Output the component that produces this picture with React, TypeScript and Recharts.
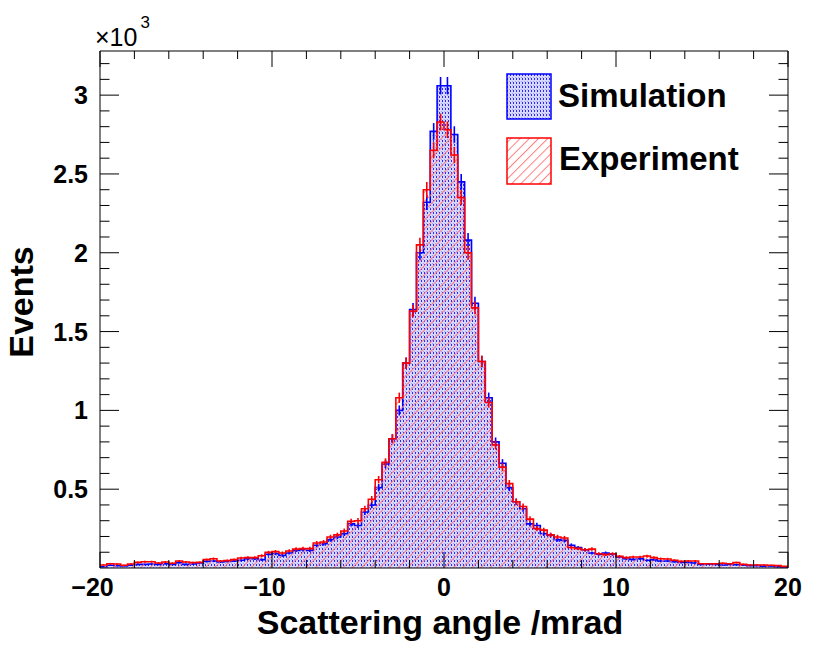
import React from 'react';
import { ComposedChart, Area, Scatter, ErrorBar, XAxis, YAxis } from 'recharts';

// Histogram binning (mrad)
const binLow = -20;
const binWidth = 0.4;
const binCount = 100;

// Simulation counts per bin
const simValues = [
  8, 17, 15, 13, 17, 23, 23, 25, 23, 27,
  23, 34, 23, 25, 32, 42, 44, 38, 42, 44,
  49, 59, 59, 53, 87, 91, 80, 95, 112, 116,
  112, 144, 154, 180, 197, 218, 280, 270, 355, 400,
  510, 660, 820, 1000, 1300, 1640, 2000, 2320, 2770, 3060,
  3060, 2750, 2450, 2080, 1680, 1310, 1080, 800, 665, 510,
  420, 376, 280, 270, 218, 208, 180, 175, 144, 129,
  116, 95, 87, 95, 87, 70, 59, 55, 59, 49,
  53, 44, 44, 40, 36, 36, 32, 23, 25, 23,
  19, 23, 21, 19, 15, 15, 11, 13, 8, 6,
];

// Experiment counts per bin
const expValues = [
  19, 27, 25, 17, 25, 36, 40, 40, 32, 38,
  30, 44, 38, 34, 36, 53, 59, 44, 47, 53,
  63, 66, 66, 78, 99, 104, 95, 108, 120, 123,
  123, 159, 165, 197, 210, 235, 296, 300, 376, 436,
  560, 670, 820, 1080, 1300, 1630, 2050, 2400, 2650, 2830,
  2780, 2620, 2350, 2000, 1650, 1310, 1050, 780, 640, 535,
  420, 390, 310, 250, 240, 210, 197, 190, 130, 123,
  116, 120, 90, 85, 90, 74, 66, 70, 70, 76,
  66, 59, 57, 49, 42, 44, 44, 27, 27, 27,
  30, 27, 34, 23, 19, 19, 19, 17, 15, 10,
];

const xTicks = [-20, -18, -16, -14, -12, -10, -8, -6, -4, -2, 0, 2, 4, 6, 8, 10, 12, 14, 16, 18, 20];
const xMajor = [-20, -10, 0, 10, 20];
const yTicks = [100, 200, 300, 400, 500, 600, 700, 800, 900, 1000, 1100, 1200, 1300, 1400, 1500, 1600,
  1700, 1800, 1900, 2000, 2100, 2200, 2300, 2400, 2500, 2600, 2700, 2800, 2900, 3000, 3100, 3200];
const yMajor = [500, 1000, 1500, 2000, 2500, 3000];
const yLabels = ['0.5', '1', '1.5', '2', '2.5', '3'];
const yMax = 3280;

const FONT = '"Liberation Sans", Arial, Helvetica, sans-serif';

// plot frame (px)
const PL = 100, PR = 788, PT = 51, PB = 568;

// edges table for step drawing
const edgeData = Array.from({ length: binCount + 1 }, (_, i) => ({
  x: +(binLow + binWidth * i).toFixed(2),
  sim: simValues[Math.min(i, binCount - 1)],
  exp: expValues[Math.min(i, binCount - 1)],
}));
const simCenters = simValues.map((v, i) => ({ x: binLow + binWidth * (i + 0.5), y: v, err: Math.sqrt(v) }));
const expCenters = expValues.map((v, i) => ({ x: binLow + binWidth * (i + 0.5), y: v, err: Math.sqrt(v) }));

const fmtX = (v: number) => (v < 0 ? '\u2212' + Math.abs(v) : String(v));

const BottomTick = (p: any) => {
  const v = p.payload.value;
  const x = p.payload.coordinate ?? p.x;
  const major = xMajor.includes(v);
  return (
    <g>
      <line x1={x} x2={x} y1={PB} y2={PB - (major ? 16 : 8)} stroke="#000" strokeWidth={1} />
      {major && (
        <text x={x + (v < 0 ? -7.5 : 0)} y={PB + 28} textAnchor="middle" fontSize={25} fontWeight="bold" fontFamily={FONT} fill="#000">
          {fmtX(v)}
        </text>
      )}
    </g>
  );
};
const TopTick = (p: any) => {
  const x = p.payload.coordinate ?? p.x;
  const major = xMajor.includes(p.payload.value);
  return <line x1={x} x2={x} y1={PT} y2={PT + (major ? 16 : 8)} stroke="#000" strokeWidth={1} />;
};
const LeftTick = (p: any) => {
  const v = p.payload.value;
  const y = p.payload.coordinate ?? p.y;
  const idx = yMajor.indexOf(v);
  const major = idx >= 0;
  return (
    <g>
      <line x1={PL} x2={PL + (major ? 19 : 9.5)} y1={y} y2={y} stroke="#000" strokeWidth={1} />
      {major && (
        <text x={PL - 12} y={y + 9} textAnchor="end" fontSize={25} fontWeight="bold" fontFamily={FONT} fill="#000">
          {yLabels[idx]}
        </text>
      )}
    </g>
  );
};
const RightTick = (p: any) => {
  const y = p.payload.coordinate ?? p.y;
  const major = yMajor.includes(p.payload.value);
  return <line x1={PR} x2={PR - (major ? 19 : 9.5)} y1={y} y2={y} stroke="#000" strokeWidth={1} />;
};

const NoShape = () => <g />;

const Patterns = () => (
  <defs>
    <pattern id="simFill" patternUnits="userSpaceOnUse" width={3} height={4}>
      <rect x={0} y={0} width={3} height={4} fill="#d8d8ff" />
      <rect x={1} y={0} width={1} height={2} fill="#2a2aff" />
      <rect x={0} y={3} width={1} height={1} fill="#a0a0ff" />
    </pattern>
    <pattern id="expFill" patternUnits="userSpaceOnUse" width={6.5} height={6.5} patternTransform="rotate(45)">
      <rect x={0} y={0} width={1} height={6.5} fill="#ff7f7f" />
    </pattern>
  </defs>
);

export default function App() {
  return (
    <div style={{ position: 'absolute', left: 0, top: 0, width: 830, height: 646, background: '#fff' }}>
      <svg width={0} height={0} style={{ position: 'absolute' }}>
        <Patterns />
      </svg>
      <ComposedChart
        width={830}
        height={646}
        data={edgeData}
        margin={{ top: PT - 1, right: 830 - PR - 1, bottom: 646 - PB - 30, left: PL - 60 }}
      >
        <XAxis
          xAxisId={0}
          dataKey="x"
          type="number"
          domain={[-20, 20]}
          allowDataOverflow
          ticks={xTicks}
          interval={0}
          height={30}
          tickSize={0}
          tickMargin={0}
          tickLine={false}
          tick={BottomTick}
          axisLine={{ stroke: '#000', strokeWidth: 1 }}
          label={{
            content: () => (
              <text x={440} y={634} textAnchor="middle" fontSize={34} fontWeight="bold" fontFamily={FONT} fill="#000">
                Scattering angle /mrad
              </text>
            ),
          }}
        />
        <XAxis
          xAxisId="top"
          dataKey="x"
          type="number"
          orientation="top"
          domain={[-20, 20]}
          allowDataOverflow
          ticks={xTicks}
          interval={0}
          height={1}
          tickSize={0}
          tickMargin={0}
          tickLine={false}
          tick={TopTick}
          axisLine={{ stroke: '#000', strokeWidth: 1 }}
        />
        <YAxis
          yAxisId={0}
          type="number"
          domain={[0, yMax]}
          allowDataOverflow
          ticks={yTicks}
          interval={0}
          width={60}
          tickSize={0}
          tickMargin={0}
          tickLine={false}
          tick={LeftTick}
          axisLine={{ stroke: '#000', strokeWidth: 1 }}
          label={{
            content: () => (
              <g>
                <text x={33} y={302} transform="rotate(-90 33 302)" textAnchor="middle" fontSize={34} fontWeight="bold" fontFamily={FONT} fill="#000">
                  Events
                </text>
                <text x={95} y={46} fontSize={25} fontFamily={FONT} fill="#000">
                  {'\u00d710'}
                  <tspan dx={3} dy={-18} fontSize={17}>3</tspan>
                </text>
              </g>
            ),
          }}
        />
        <YAxis
          yAxisId="right"
          type="number"
          orientation="right"
          domain={[0, yMax]}
          allowDataOverflow
          ticks={yTicks}
          interval={0}
          width={1}
          tickSize={0}
          tickMargin={0}
          tickLine={false}
          tick={RightTick}
          axisLine={{ stroke: '#000', strokeWidth: 1 }}
        />
        <Area
          type="stepAfter"
          dataKey="sim"
          stroke="#0000ff"
          strokeWidth={1.6}
          fill="url(#simFill)"
          fillOpacity={1}
          isAnimationActive={false}
          dot={false}
          activeDot={false}
        />
        <Scatter data={simCenters} dataKey="y" shape={NoShape} isAnimationActive={false}>
          <ErrorBar dataKey="err" direction="y" width={0} stroke="#0000ff" strokeWidth={1.6} isAnimationActive={false} />
        </Scatter>
        <Area
          type="stepAfter"
          dataKey="exp"
          stroke="#ff0000"
          strokeWidth={1.6}
          fill="url(#expFill)"
          fillOpacity={1}
          isAnimationActive={false}
          dot={false}
          activeDot={false}
        />
        <Scatter data={expCenters} dataKey="y" shape={NoShape} isAnimationActive={false}>
          <ErrorBar dataKey="err" direction="y" width={0} stroke="#ff0000" strokeWidth={1.6} isAnimationActive={false} />
        </Scatter>
      </ComposedChart>
      <svg width={260} height={130} style={{ position: 'absolute', left: 500, top: 66 }}>
        <rect x={7} y={8} width={44} height={45} fill="url(#simFill)" stroke="#0000ff" strokeWidth={1.5} />
        <text x={58} y={41} fontSize={33} fontWeight="bold" fontFamily={FONT} fill="#000">Simulation</text>
        <rect x={7} y={72} width={44} height={46} fill="url(#expFill)" stroke="#ff0000" strokeWidth={1.5} />
        <text x={59} y={104} fontSize={33} fontWeight="bold" fontFamily={FONT} fill="#000">Experiment</text>
      </svg>
    </div>
  );
}
